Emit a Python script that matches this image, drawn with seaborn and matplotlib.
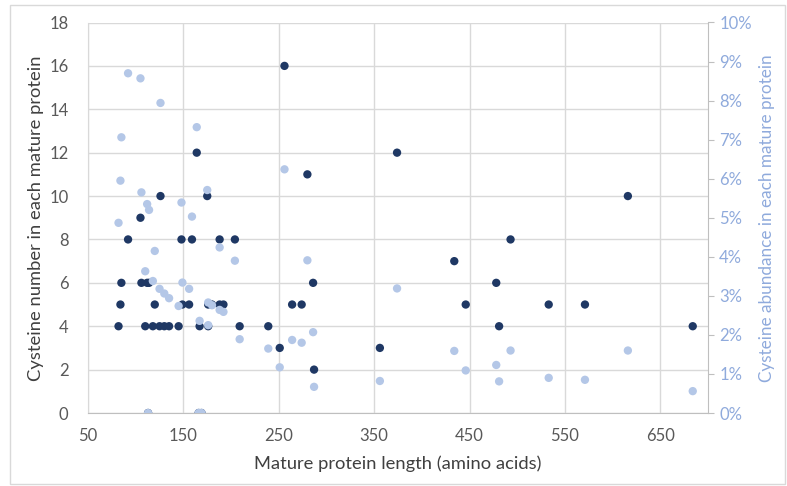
import numpy as np
import pandas as pd
import matplotlib
matplotlib.use("Agg")
import matplotlib.pyplot as plt
import seaborn as sns
from matplotlib.ticker import MultipleLocator, PercentFormatter
from matplotlib.patches import Rectangle

# lunghezza proteina matura (aa), numero di cisteine, abbondanza (%)
length = [82, 84, 85, 92, 105, 106, 110, 112, 114, 113, 118, 120, 125, 126, 130,
          135, 145, 148, 149, 156, 159, 164, 166, 169, 167, 175, 176, 176, 180,
          188, 188, 192, 204, 209, 239, 251, 256, 264, 274, 280, 286, 287, 356,
          374, 434, 446, 478, 481, 493, 533, 571, 616, 684]
cys_count = [4, 5, 6, 8, 9, 6, 4, 6, 6, 0, 4, 5, 4, 10, 4,
             4, 4, 8, 5, 5, 8, 12, 0, 0, 4, 10, 5, 4, 5,
             8, 5, 5, 8, 4, 4, 3, 16, 5, 5, 11, 6, 2, 3,
             12, 7, 5, 6, 4, 8, 5, 5, 10, 4]
cys_abund = [4.87, 5.95, 7.06, 8.70, 8.57, 5.65, 3.63, 5.35, 5.20, 0.0, 3.38, 4.15, 3.18, 7.94, 3.06,
             2.94, 2.74, 5.39, 3.34, 3.18, 5.03, 7.32, 0.0, 0.0, 2.36, 5.71, 2.83, 2.25, 2.76,
             4.24, 2.64, 2.59, 3.90, 1.89, 1.65, 1.17, 6.24, 1.87, 1.80, 3.91, 2.07, 0.67, 0.82,
             3.19, 1.59, 1.09, 1.23, 0.81, 1.60, 0.90, 0.85, 1.60, 0.56]

df = pd.DataFrame({"length": length, "count": cys_count, "abund": cys_abund})

sns.set_style("white")
plt.rcParams['font.family'] = ['Lato', 'DejaVu Sans']

dark = "#1f3864"
light = "#b4c7e7"
light_txt = "#8faadc"
grid_c = "#d9d9d9"

fig = plt.figure(figsize=(7.87, 4.86), dpi=100)
ax = fig.add_axes([88/787, 1-413/486, 620/787, 390.5/486])

sns.scatterplot(data=df, x="length", y="count", ax=ax, color=dark, s=36,
                edgecolor="none", zorder=3)
ax.set_xlim(50, 700)
ax.set_ylim(0, 18)
ax.set_yticks(range(0, 19, 2))
ax.xaxis.set_major_locator(MultipleLocator(100, offset=50))
ax.xaxis.set_minor_locator(MultipleLocator(20, offset=10))
ax.grid(True, which="major", color=grid_c, linewidth=1)
ax.set_axisbelow(True)
ax.tick_params(axis="x", which="both", direction="inout", length=6, color="#bfbfbf",
               labelsize=12, labelcolor="#595959", pad=8)
ax.tick_params(axis="y", length=0, labelsize=12, labelcolor="#595959", pad=14)
for s in ["top", "right"]:
    ax.spines[s].set_visible(False)
ax.spines["bottom"].set_color("#bfbfbf")
ax.spines["left"].set_color(grid_c)
ax.set_xlabel("Mature protein length (amino acids)", fontsize=13.2, color="#404040", labelpad=8)
ax.set_ylabel("Cysteine number in each mature protein", fontsize=13.2, color="#404040", labelpad=4)

ax2 = ax.twinx()
sns.scatterplot(data=df, x="length", y="abund", ax=ax2, color=light, s=36,
                edgecolor="none", zorder=3)
ax2.set_ylim(0, 10)
ax2.set_yticks(range(0, 11))
ax2.yaxis.set_major_formatter(PercentFormatter(decimals=0))
ax2.tick_params(axis="y", direction="out", length=4, color="#bfbfbf",
                labelsize=12, labelcolor=light_txt, pad=4)
for s in ["top", "left", "bottom"]:
    ax2.spines[s].set_visible(False)
ax2.spines["right"].set_color("#bfbfbf")
ax2.set_ylabel("Cysteine abundance in each mature protein", fontsize=12.3,
               color=light_txt, labelpad=5)
ax2.set_xlim(50, 700)

fig.patches.append(Rectangle((10/787, 2/486), 775/787, 479/486, transform=fig.transFigure,
                             fill=False, edgecolor=grid_c, linewidth=1))

fig.savefig("out.png", dpi=100)
